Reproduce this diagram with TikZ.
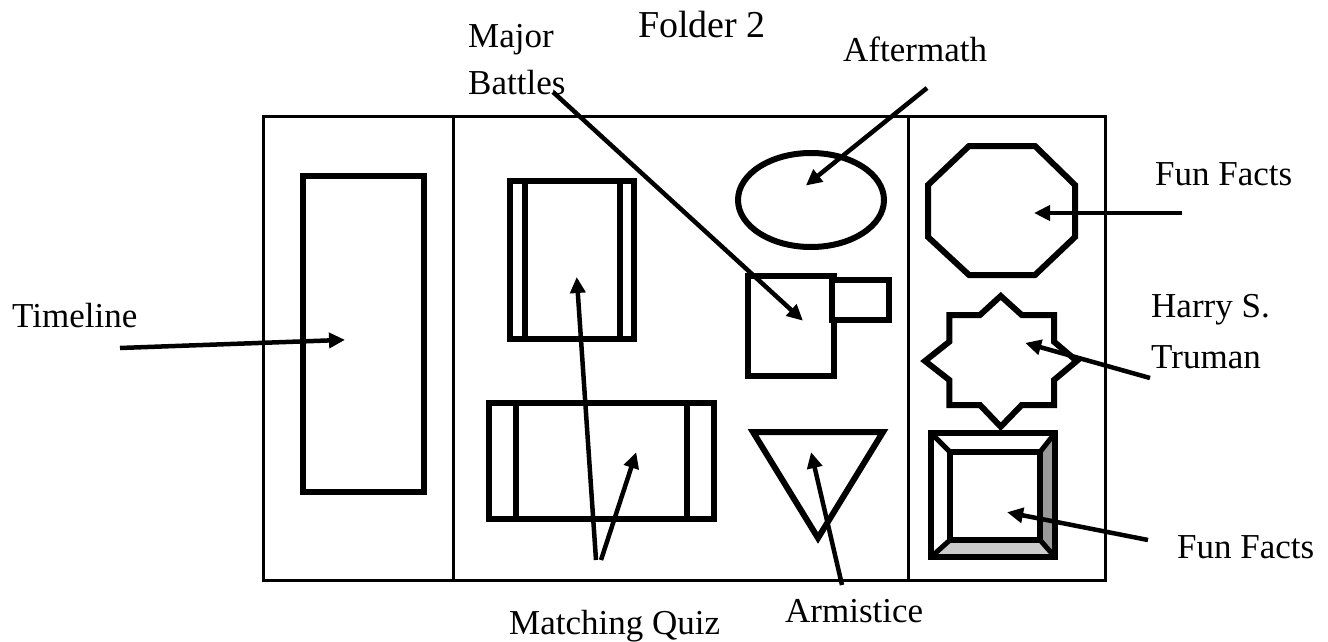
\documentclass[tikz,border=0pt]{standalone}
\usepackage{fontspec}
\setmainfont{Liberation Serif}
\usetikzlibrary{arrows.meta}
\begin{document}
\begin{tikzpicture}[x=1pt,y=-1pt,
  lbl/.style={font=\fontsize{35}{42}\selectfont, anchor=base west, inner sep=0pt},
  frame/.style={line width=3pt},
  shp/.style={line width=6pt, line join=miter},
  ptr/.style={line width=4.5pt, -{Triangle[length=16pt,width=15pt]}, shorten >=-4pt}]
\useasboundingbox (0,0) rectangle (1328,642);
% frame
\draw[frame] (263,116) rectangle (1105,580);
\draw[frame] (453,116) -- (453,580);
\draw[frame] (908,116) -- (908,580);
% timeline rectangle
\draw[shp] (303,176) rectangle (424,492);
\coordinate (tlc) at (341,340);
% double rect top
\draw[shp] (510,181) rectangle (634,339);
\draw[shp] (525,181) -- (525,339);
\draw[shp] (620,181) -- (620,339);
\coordinate (mq1) at (577,281);
% double rect bottom
\draw[shp] (489,403) rectangle (714,519);
\draw[shp] (516,403) -- (516,519);
\draw[shp] (687,403) -- (687,519);
\coordinate (mq2) at (635,456);
% ellipse
\draw[shp] (811,200) ellipse [x radius=73, y radius=47];
\coordinate (afc) at (809,183);
% square with small rect
\draw[shp] (748,276) rectangle (834,376);
\draw[shp, fill=white] (832,280) rectangle (889,320);
\coordinate (mbc) at (800,318);
% triangle
\draw[shp] (753,432) -- (883,432) -- (818,538) -- cycle;
\coordinate (arc) at (812,456);
% octagon
\draw[shp] (969,146) -- (1035,146) -- (1075,185) -- (1075,237) -- (1035,275) -- (969,275) -- (928,237) -- (928,185) -- cycle;
\coordinate (ff1c) at (1038,213);
% star
\draw[shp] (1000.7,296) -- (980,315) -- (949.3,315) -- (949.3,341.7) -- (925,361) -- (949.3,380) -- (949.3,405) -- (980,405) -- (1000.7,426.7) -- (1021.7,405) -- (1054,405) -- (1054,380) -- (1076.7,361) -- (1054,341.7) -- (1054,315) -- (1021.7,315) -- cycle;
\coordinate (hstc) at (1029,344);
% bevel square
\fill[white] (931,433) rectangle (1055,557);
\fill[black!40] (1055,433) -- (1055,557) -- (1040,540) -- (1040,452) -- cycle;
\fill[black!20] (931,557) -- (1055,557) -- (1040,540) -- (950,540) -- cycle;
\draw[line width=5pt] (931,433) -- (950,452) (1055,433) -- (1040,452) (931,557) -- (950,540) (1055,557) -- (1040,540);
\draw[shp] (931,433) rectangle (1055,557);
\draw[shp] (950,452) rectangle (1040,540);
\coordinate (ff2c) at (1011,513);
% labels
\node[lbl, font=\fontsize{38}{44}\selectfont] (folder) at (638,38) {Folder 2};
\node[lbl] (major) at (468,48) {Major};
\node[lbl] (battles) at (468,95) {Battles};
\node[lbl] (after) at (843,62) {Aftermath};
\node[lbl] (ff1) at (1155,185) {Fun Facts};
\node[lbl] (timeline) at (12,327) {Timeline};
\node[lbl] (harry) at (1151,317) {Harry S.};
\node[lbl] (truman) at (1151,368) {Truman};
\node[lbl] (ff2) at (1177,558) {Fun Facts};
\node[lbl] (mq) at (509,634) {Matching Quiz};
\node[lbl] (arm) at (785,622) {Armistice};
% connector start points
\coordinate (tls) at (120,348);
\coordinate (mqs1) at (596,560);
\coordinate (mqs2) at (601,560);
\coordinate (afs) at (927,88);
\coordinate (mbs) at (553,92);
\coordinate (ars) at (842,585);
\coordinate (ff1s) at (1182,213);
\coordinate (hsts) at (1150,378);
\coordinate (ff2s) at (1148,540);
% arrows
\draw[ptr] (tls) -- (tlc);
\draw[ptr] (mqs1) -- (mq1);
\draw[ptr] (mqs2) -- (mq2);
\draw[ptr] (afs) -- (afc);
\draw[ptr] (mbs) -- (mbc);
\draw[ptr] (ars) -- (arc);
\draw[ptr] (ff1s) -- (ff1c);
\draw[ptr] (hsts) -- (hstc);
\draw[ptr] (ff2s) -- (ff2c);
\end{tikzpicture}
\end{document}
